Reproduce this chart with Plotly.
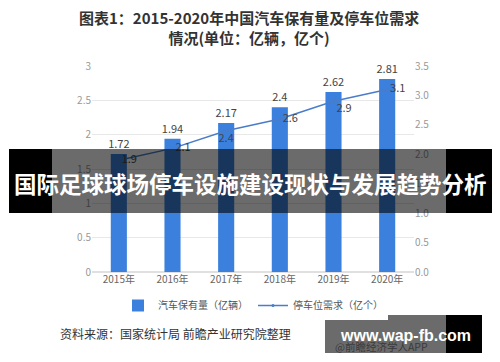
import plotly.graph_objects as go

years = ["2015年", "2016年", "2017年", "2018年", "2019年", "2020年"]
car_stock = [1.72, 1.94, 2.17, 2.4, 2.62, 2.81]
parking_demand = [1.9, 2.1, 2.4, 2.6, 2.9, 3.1]
left_ticks = [0, 0.5, 1, 1.5, 2, 2.5, 3]
right_ticks = [0, 0.5, 1.0, 1.5, 2.0, 2.5, 3.0, 3.5]

title_text = "<b>图表1：2015-2020年中国汽车保有量及停车位需求<br>情况(单位：亿辆，亿个)</b>"
source_text = "资料来源：国家统计局 前瞻产业研究院整理"
banner_text = "国际足球球场停车设施建设现状与发展趋势分析"
wm_text = "www.wap-fb.com"
wm_sub = "@前瞻经济学人APP"

font = "Noto Sans CJK SC, Noto Sans, sans-serif"

# page body has an 8px default margin; figure is sized to fit the window
OFF = 8
W, H = 500 - 2 * OFF, 362 - 2 * OFF
L, T = 92 - OFF, 66 - OFF
R = W - (414 - OFF)
B = H - (272 - OFF)
PW, PH = W - L - R, H - T - B


def px(x):
    return (x - OFF - L) / PW


def py(y):
    return (H - B - (y - OFF)) / PH


fig = go.Figure()
fig.add_trace(go.Bar(
    x=years, y=car_stock, name="汽车保有量（亿辆）",
    marker=dict(color="#3a80dc", line=dict(width=0)),
    width=0.3,
    text=[f"{v:g}" for v in car_stock], textposition="outside",
    constraintext="none",
    textfont=dict(size=11, color="#444"), cliponaxis=False,
))
fig.add_trace(go.Scatter(
    x=years, y=parking_demand, name="停车位需求（亿个）", yaxis="y2",
    mode="lines+markers+text",
    line=dict(color="#4a7cca", width=1.5),
    marker=dict(size=3, color="#4a7cca"),
    text=[f"{v:g}" for v in parking_demand],
    textposition=["middle right", "middle right", "bottom center", "middle right", "bottom right", "middle right"],
    textfont=dict(size=11, color="#444"), cliponaxis=False,
))

fig.update_layout(
    width=W, height=H,
    margin=dict(l=L, r=R, t=T, b=B, autoexpand=False),
    paper_bgcolor="white", plot_bgcolor="white",
    font=dict(family=font, color="#444"),
    showlegend=True,
    legend=dict(orientation="h", x=0.5, xanchor="center", y=py(291), yanchor="top",
                font=dict(size=10, color="#555"), itemwidth=30),
    xaxis=dict(tickfont=dict(size=10, color="#666"), showline=False, ticks="",
               showgrid=False),
    yaxis=dict(range=[0, 3], tickvals=left_ticks, tickfont=dict(size=10, color="#999"),
               gridcolor="#e8e8e8", zeroline=True, zerolinecolor="#e0e0e0",
               showline=False, ticks="", ticklen=0),
    yaxis2=dict(range=[0, 3.5], tickvals=right_ticks, tickformat=".1f", overlaying="y",
                side="right", showgrid=False, zeroline=False,
                tickfont=dict(size=10, color="#999")),
    shapes=[
        dict(type="rect", xref="paper", yref="paper",
             x0=px(9), x1=px(52), y0=py(213), y1=py(149),
             layer="above", line=dict(width=0), fillcolor="black"),
        dict(type="rect", xref="paper", yref="paper",
             x0=px(446), x1=px(492), y0=py(213), y1=py(149),
             layer="above", line=dict(width=0), fillcolor="black"),
        dict(type="rect", xref="paper", yref="paper",
             x0=px(52), x1=px(446), y0=py(213), y1=py(149),
             layer="above", line=dict(width=0), fillcolor="rgba(0,0,0,0.58)"),
        dict(type="rect", xref="paper", yref="paper",
             x0=px(325), x1=px(446), y0=py(353), y1=py(315),
             layer="above", line=dict(width=0), fillcolor="rgba(0,0,0,0.58)"),
        dict(type="rect", xref="paper", yref="paper",
             x0=px(446), x1=px(482), y0=py(353), y1=py(315),
             layer="above", line=dict(width=0), fillcolor="black"),
    ],
    annotations=[
        dict(text=title_text, xref="paper", yref="paper", x=px(249), y=py(27.5),
             showarrow=False, font=dict(size=15, color="#333", family=font),
             xanchor="center", yanchor="middle", align="center"),
        dict(text=source_text, xref="paper", yref="paper", x=px(58), y=py(333),
             showarrow=False, font=dict(size=12, color="#333", family=font),
             xanchor="left", yanchor="middle"),
        dict(text="<b>" + banner_text + "</b>", xref="paper", yref="paper",
             x=px(250), y=py(183),
             showarrow=False, font=dict(size=22.5, color="white", family=font),
             xanchor="center", yanchor="middle"),
        dict(text=wm_sub, xref="paper", yref="paper", x=px(333), y=py(346.5),
             showarrow=False, font=dict(size=10.5, color="#3a3a3a", family=font),
             xanchor="left", yanchor="middle"),
        dict(text="<b>" + wm_text + "</b>", xref="paper", yref="paper",
             x=px(405), y=py(335),
             showarrow=False, font=dict(size=16, color="white", family="Liberation Sans, Arial, sans-serif"),
             xanchor="center", yanchor="middle"),
    ],
)

fig.write_html("out.html")
